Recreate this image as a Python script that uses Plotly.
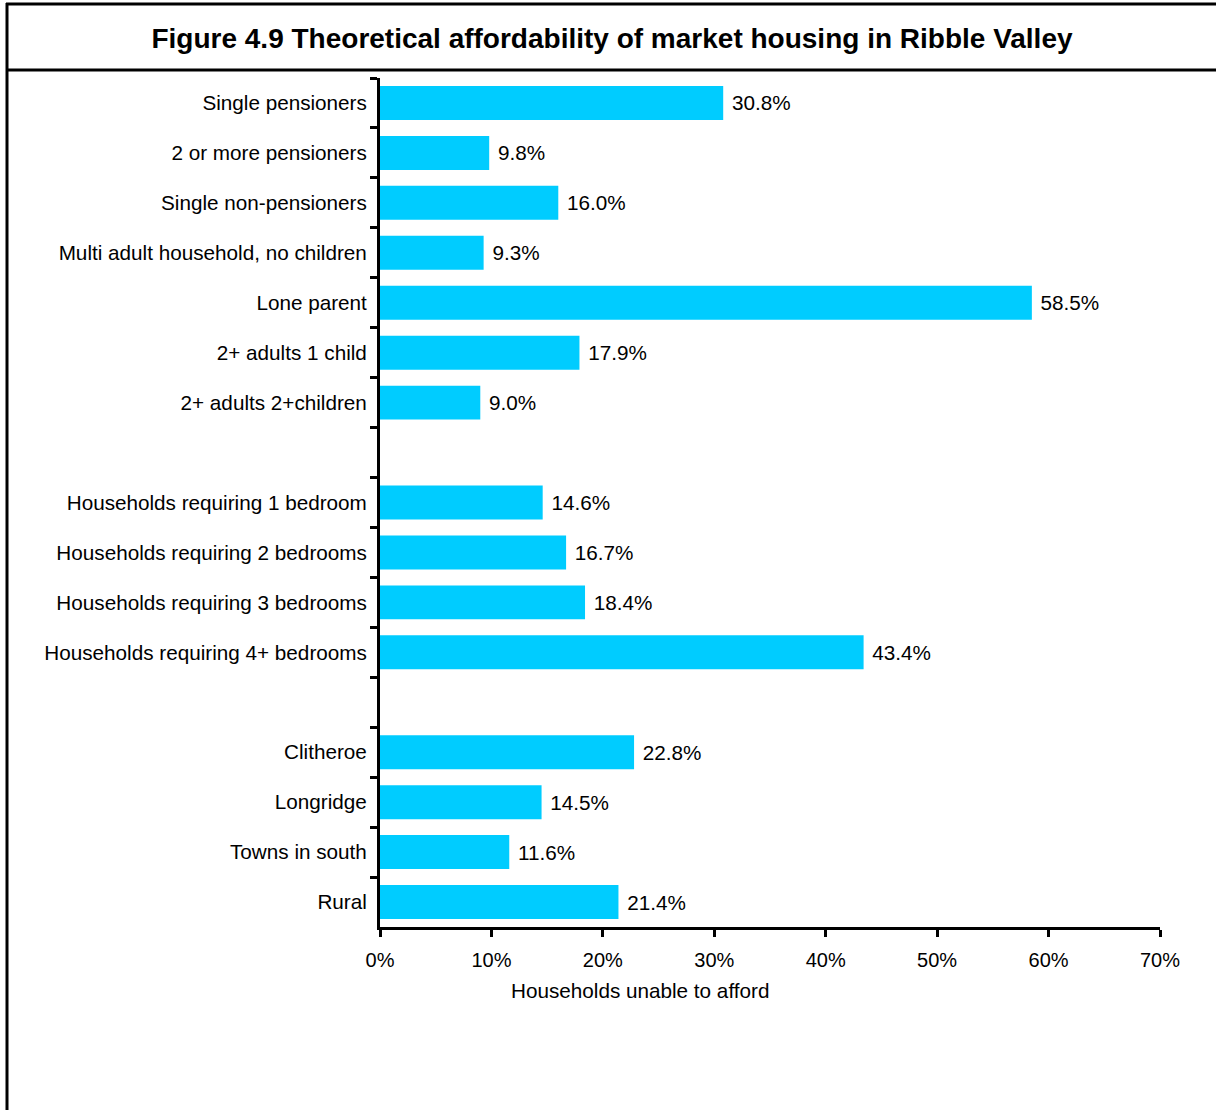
import plotly.graph_objects as go

categories = [
    "Single pensioners", "2 or more pensioners", "Single non-pensioners",
    "Multi adult household, no children", "Lone parent", "2+ adults 1 child",
    "2+ adults 2+children", " ",
    "Households requiring 1 bedroom", "Households requiring 2 bedrooms",
    "Households requiring 3 bedrooms", "Households requiring 4+ bedrooms", "  ",
    "Clitheroe", "Longridge", "Towns in south", "Rural",
]
values = [30.8, 9.8, 16.0, 9.3, 58.5, 17.9, 9.0, None,
          14.6, 16.7, 18.4, 43.4, None,
          22.8, 14.5, 11.6, 21.4]
labels = [f" {v:.1f}%" if v is not None else "" for v in values]

W, H = 1216, 1110
L, R, T, B = 380, 1160, 78, 927
FONT = "Liberation Sans, Arial, sans-serif"

def px(x):
    return (x - L) / (R - L)

def py(y):
    return (B - y) / (B - T)

fig = go.Figure(go.Bar(
    y=categories, x=values, orientation="h",
    marker=dict(color="#00CCFF", line=dict(width=0)),
    width=0.68,
    text=labels, textposition="outside", cliponaxis=False,
    textfont=dict(size=20.7, color="black", family=FONT),
))

fig.update_layout(
    width=W, height=H,
    margin=dict(l=L, r=W - R, t=T, b=H - B),
    paper_bgcolor="white", plot_bgcolor="white",
    font=dict(family=FONT, size=20.7, color="black"),
    showlegend=False,
    title=dict(text="<b>Figure 4.9 Theoretical affordability of market housing in Ribble Valley</b>",
               x=612 / W, xref="container", xanchor="center",
               y=1 - 38 / H, yref="container", yanchor="middle",
               font=dict(size=28, family=FONT, color="black")),
    xaxis=dict(range=[0, 70], dtick=10, ticksuffix="%", showgrid=False, zeroline=False,
               showline=True, linecolor="black", linewidth=3,
               ticks="outside", ticklen=7, tickwidth=3, tickcolor="black",
               tickfont=dict(size=20), ticklabelstandoff=6, fixedrange=True),
    yaxis=dict(type="category", categoryorder="array", categoryarray=categories,
               autorange="reversed", showgrid=False, zeroline=False,
               showline=True, linecolor="black", linewidth=3,
               ticks="outside", ticklen=7, tickwidth=3, tickcolor="black",
               tickson="boundaries", tickfont=dict(size=20.7), ticklabelstandoff=6),
    bargap=0.32,
)

fig.add_annotation(text="Households unable to afford", x=px(640), y=py(990),
                   xref="paper", yref="paper", showarrow=False,
                   xanchor="center", yanchor="middle", font=dict(size=20.7))

line = dict(color="black", width=3)
fig.add_shape(type="line", xref="paper", yref="paper", x0=px(6), x1=px(1216), y0=py(4), y1=py(4), line=line)
fig.add_shape(type="line", xref="paper", yref="paper", x0=px(6), x1=px(1216), y0=py(70), y1=py(70), line=line)
fig.add_shape(type="line", xref="paper", yref="paper", x0=px(7), x1=px(7), y0=py(3), y1=py(1112), line=line)

fig.write_html("out.html", config={"displayModeBar": False},
               post_script="document.body.style.margin='0';")
